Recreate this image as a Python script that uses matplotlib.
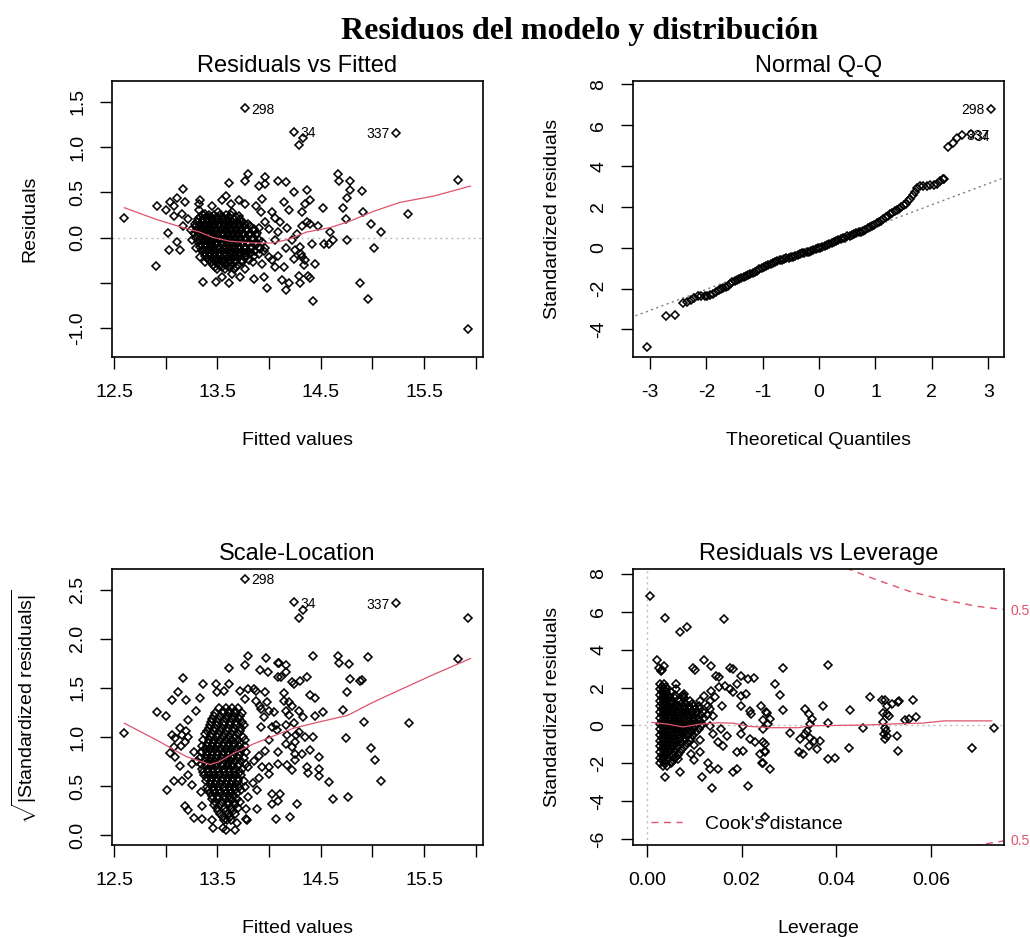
import matplotlib
matplotlib.use("Agg")
import matplotlib.pyplot as plt

plt.rcParams['font.family'] = ['Liberation Sans', 'DejaVu Sans']
plt.rcParams['mathtext.fontset'] = 'custom'
plt.rcParams['mathtext.rm'] = 'Liberation Sans'
plt.rcParams['mathtext.it'] = 'Liberation Sans:italic'

RED = '#DF536B'

# ---------------- Residuals vs Fitted ----------------
# scattered points (fitted value, residual)
rvf_points = [
    (12.60, 0.22), (12.91, -0.31), (12.92, 0.35), (13.00, 0.30), (13.02, 0.05), (13.03, -0.14),
    (13.04, 0.39), (13.08, 0.35), (13.11, 0.44), (13.11, -0.05), (13.14, -0.14), (13.17, 0.54),
    (13.19, 0.39), (13.08, 0.24), (13.16, 0.26), (13.22, 0.21), (13.17, 0.13), (13.24, 0.08),
    (13.33, 0.41), (13.32, 0.30), (13.25, -0.03), (13.29, -0.11), (13.33, -0.21), (13.38, -0.27),
    (13.36, -0.49), (13.49, -0.49), (13.61, -0.50), (13.54, -0.44), (13.64, -0.40), (13.72, -0.44),
    (13.77, -0.35), (13.85, -0.46), (13.95, -0.44), (13.98, -0.56), (14.13, -0.47), (14.16, -0.58),
    (14.19, -0.50), (14.30, -0.50), (14.29, -0.42), (14.38, -0.42), (14.40, -0.45), (14.43, -0.70),
    (14.32, -0.22), (14.35, -0.25), (14.25, -0.14), (14.24, -0.24), (14.14, -0.33), (14.06, -0.33),
    (14.03, -0.25), (14.09, -0.20), (14.16, -0.11), (14.22, -0.03), (14.27, 0.04), (14.32, 0.13),
    (14.37, 0.17), (14.32, 0.28), (14.35, 0.37), (14.24, 0.50), (14.16, 0.61), (14.09, 0.63),
    (13.96, 0.67), (13.96, 0.59), (13.90, 0.57), (13.80, 0.70), (13.77, 0.62), (13.61, 0.60),
    (14.37, 0.53), (14.40, 0.41), (13.45, 0.35), (13.58, 0.46), (13.63, 0.37), (13.54, 0.41),
    (13.71, 0.41), (13.77, 0.37), (13.87, 0.35), (13.93, 0.43), (13.92, 0.28), (14.03, 0.28),
    (14.06, 0.22), (14.14, 0.39), (14.19, 0.30), (13.96, 0.17), (13.90, 0.11), (14.00, 0.10),
    (14.11, 0.17), (14.09, 0.06), (14.17, 0.11), (14.06, -0.03), (13.96, -0.11), (13.90, -0.18),
    (14.00, -0.22), (13.93, -0.29), (13.84, -0.27), (13.80, 0.15), (13.71, 0.24), (13.64, 0.28),
    (13.51, 0.28), (13.32, 0.37), (13.38, 0.26),
    (14.33, 1.10), (14.29, 1.02),
    (14.67, 0.70), (14.68, 0.63), (14.78, 0.63), (14.78, 0.53), (14.90, 0.52), (14.75, 0.44),
    (14.72, 0.33), (14.91, 0.28), (14.74, 0.20), (14.99, 0.15), (15.08, 0.06), (14.75, -0.03),
    (15.02, -0.12), (14.88, -0.50), (14.96, -0.68), (15.34, 0.26), (15.83, 0.64), (15.93, -1.01),
    (14.52, 0.33), (14.40, 0.15), (14.47, 0.13), (14.59, 0.06), (14.62, -0.03), (14.58, -0.07),
    (14.53, -0.07), (14.42, -0.07), (14.30, -0.10), (14.31, -0.18), (14.44, -0.29), (14.34, -0.30),
]
# dense cluster: residual level -> fitted values
rvf_cluster = {
    0.25: [13.36, 13.42, 13.47, 13.53, 13.58, 13.63],
    0.225: [13.33, 13.39, 13.44, 13.50, 13.55, 13.61, 13.68],
    0.20: [13.31, 13.36, 13.41, 13.45, 13.50, 13.55, 13.60, 13.66, 13.72],
    0.175: [13.30, 13.35, 13.40, 13.45, 13.50, 13.55, 13.60, 13.64, 13.69, 13.74],
    0.15: [13.28, 13.33, 13.38, 13.43, 13.47, 13.52, 13.57, 13.61, 13.66, 13.71, 13.77],
    0.125: [13.29, 13.33, 13.38, 13.42, 13.47, 13.52, 13.56, 13.61, 13.66, 13.71, 13.76, 13.82],
    0.10: [13.30, 13.35, 13.40, 13.44, 13.49, 13.54, 13.58, 13.63, 13.68, 13.73, 13.79, 13.85],
    0.075: [13.30, 13.35, 13.39, 13.44, 13.49, 13.53, 13.58, 13.63, 13.68, 13.73, 13.79, 13.85],
    0.05: [13.27, 13.32, 13.37, 13.42, 13.46, 13.51, 13.55, 13.60, 13.65, 13.70, 13.75, 13.82, 13.88],
    0.025: [13.31, 13.36, 13.41, 13.46, 13.50, 13.55, 13.60, 13.65, 13.70, 13.75, 13.81, 13.87],
    0.00: [13.29, 13.34, 13.39, 13.44, 13.48, 13.53, 13.57, 13.62, 13.67, 13.72, 13.78, 13.84],
    -0.025: [13.32, 13.37, 13.42, 13.47, 13.52, 13.57, 13.62, 13.67, 13.72, 13.77, 13.84, 13.90],
    -0.05: [13.31, 13.36, 13.41, 13.45, 13.50, 13.55, 13.59, 13.64, 13.69, 13.74, 13.80, 13.87, 13.93],
    -0.075: [13.34, 13.39, 13.44, 13.49, 13.54, 13.59, 13.64, 13.69, 13.74, 13.80, 13.87],
    -0.10: [13.33, 13.38, 13.43, 13.47, 13.52, 13.57, 13.61, 13.66, 13.71, 13.77, 13.83, 13.90],
    -0.125: [13.36, 13.41, 13.46, 13.51, 13.56, 13.61, 13.66, 13.71, 13.77, 13.83, 13.91],
    -0.15: [13.35, 13.40, 13.45, 13.49, 13.54, 13.59, 13.63, 13.68, 13.74, 13.80, 13.86, 13.95],
    -0.175: [13.38, 13.43, 13.47, 13.52, 13.57, 13.62, 13.66, 13.71, 13.77, 13.83],
    -0.20: [13.38, 13.43, 13.48, 13.53, 13.57, 13.62, 13.67, 13.72, 13.78, 13.85],
    -0.225: [13.40, 13.45, 13.50, 13.55, 13.60, 13.65, 13.70, 13.77],
    -0.25: [13.42, 13.47, 13.52, 13.57, 13.62, 13.67, 13.74, 13.81],
    -0.275: [13.44, 13.49, 13.55, 13.61, 13.67, 13.74],
    -0.30: [13.46, 13.52, 13.58, 13.64, 13.70],
    -0.325: [13.48, 13.54, 13.61, 13.68],
    -0.35: [13.50, 13.57, 13.66],
}
rvf_id_x = [13.77, 14.24, 15.23]
rvf_id_y = [1.43, 1.17, 1.16]
id_labels = ['298', '34', '337']
rvf_smooth_x = [12.60, 12.91, 13.17, 13.33, 13.46, 13.62, 13.85, 14.04, 14.20, 14.36, 14.59,
                14.78, 15.01, 15.27, 15.60, 15.95]
rvf_smooth_y = [0.33, 0.20, 0.11, 0.06, 0.00, -0.04, -0.06, -0.06, -0.015, 0.06, 0.11,
                0.18, 0.29, 0.39, 0.46, 0.57]

# ---------------- Normal Q-Q ----------------
qq_x = [-3.06, -2.71, -2.55, -2.41, -2.34, -2.27, -2.21, -2.15, -2.09, -2.03, -1.98, -1.93,
        -1.88, -1.83, -1.78, -1.74, -1.70, -1.66, -1.62, -1.58, -1.54, -1.50, -1.46, -1.42,
        -1.38, -1.34, -1.30, -1.26, -1.22, -1.18, -1.14, -1.10, -1.06, -1.02, -0.98, -0.94,
        -0.90, -0.86, -0.82, -0.78, -0.74, -0.70, -0.66, -0.62, -0.58, -0.54, -0.50, -0.46,
        -0.42, -0.38, -0.34, -0.30, -0.26, -0.22, -0.18, -0.14, -0.10, -0.06, -0.02, 0.02,
        0.06, 0.10, 0.14, 0.18, 0.22, 0.26, 0.30, 0.34, 0.38, 0.42, 0.46, 0.50, 0.54, 0.58,
        0.62, 0.66, 0.70, 0.74, 0.78, 0.82, 0.86, 0.90, 0.94, 0.98, 1.02, 1.06, 1.10, 1.14,
        1.18, 1.22, 1.26, 1.30, 1.34, 1.38, 1.42, 1.46, 1.50, 1.54, 1.58, 1.62, 1.66, 1.70,
        1.74, 1.79, 1.85, 1.91, 1.97, 2.03, 2.09, 2.14, 2.19, 2.22, 2.29, 2.37, 2.45, 2.53,
        2.69, 3.04]
qq_y = [-4.85, -3.36, -3.28, -2.73, -2.68, -2.56, -2.47, -2.38, -2.36, -2.35, -2.36, -2.30,
        -2.26, -2.19, -2.08, -2.00, -1.95, -1.90, -1.85, -1.78, -1.70, -1.64, -1.58, -1.53,
        -1.49, -1.45, -1.39, -1.33, -1.28, -1.23, -1.18, -1.12, -1.06, -1.01, -0.96, -0.91,
        -0.86, -0.81, -0.76, -0.69, -0.64, -0.61, -0.58, -0.55, -0.52, -0.50, -0.47, -0.44,
        -0.40, -0.35, -0.31, -0.28, -0.25, -0.22, -0.19, -0.15, -0.11, -0.07, -0.03, 0.01,
        0.05, 0.09, 0.13, 0.17, 0.22, 0.26, 0.31, 0.36, 0.41, 0.46, 0.50, 0.55, 0.59, 0.63,
        0.67, 0.71, 0.75, 0.79, 0.84, 0.89, 0.95, 1.01, 1.07, 1.13, 1.19, 1.26, 1.33, 1.41,
        1.49, 1.57, 1.65, 1.72, 1.79, 1.86, 1.92, 1.99, 2.07, 2.15, 2.27, 2.40, 2.56, 2.74,
        2.92, 3.00, 3.02, 3.03, 3.05, 3.08, 3.14, 3.25, 3.34, 3.37, 4.91, 5.15, 5.35, 5.52,
        5.58, 6.79]
qq_line_x = [-3.35, 3.35]
qq_line_y = [-3.43, 3.50]

# ---------------- Scale-Location ----------------
sl_points = [
    (12.60, 1.04), (14.33, 2.29), (14.29, 2.21), (15.93, 2.21), (15.83, 1.79),
    (15.35, 1.14), (14.96, 1.81), (14.67, 1.83), (14.68, 1.75), (14.77, 1.74), (14.78, 1.59),
    (14.88, 1.57), (14.90, 1.58), (14.75, 1.46), (14.72, 1.28), (14.92, 1.15), (14.74, 0.99),
    (14.99, 0.89), (15.03, 0.77), (15.08, 0.55), (14.76, 0.39), (14.62, 0.37), (14.58, 0.54),
    (14.48, 0.67), (14.48, 0.60), (14.48, 0.80), (14.52, 1.25), (14.44, 1.21), (14.44, 1.40),
    (14.40, 1.43), (14.37, 1.61), (14.43, 1.83), (14.30, 1.57), (14.24, 1.54), (14.33, 1.20),
    (14.43, 1.00), (14.40, 0.87), (14.37, 0.69), (14.38, 0.63), (14.27, 0.32), (14.20, 0.19),
    (14.07, 0.17), (14.11, 0.42), (14.03, 0.42), (14.09, 0.35), (14.17, 0.71), (14.25, 0.77),
    (14.25, 0.83), (14.26, 1.02), (14.25, 0.95), (14.16, 1.12), (14.19, 1.22), (14.19, 1.36),
    (14.14, 1.45), (14.16, 1.66), (14.10, 1.75), (14.16, 1.73), (14.12, 1.61), (13.97, 1.80),
    (13.91, 1.68), (13.99, 1.66), (13.80, 1.83), (13.77, 1.73), (13.61, 1.70), (13.85, 1.49),
    (13.96, 1.46), (13.91, 1.32), (14.05, 1.25), (14.07, 1.12), (14.09, 0.73), (14.00, 0.69),
    (14.00, 0.62), (13.88, 0.27), (13.78, 0.27), (13.78, 0.17), (13.69, 0.12), (13.67, 0.05),
    (13.55, 0.07), (13.35, 0.17), (13.35, 0.30), (13.27, 0.18), (13.22, 0.26), (13.01, 0.46),
    (13.08, 0.55), (13.16, 0.55), (12.92, 1.25), (13.00, 1.21), (13.06, 1.38), (13.12, 1.46),
    (13.17, 1.60), (13.20, 1.38), (13.04, 0.84), (13.09, 0.80), (13.09, 0.99), (13.14, 1.09),
    (13.20, 1.06), (13.15, 0.91), (13.19, 0.95), (13.33, 1.40), (13.36, 1.54), (13.49, 1.54),
    (13.61, 1.54), (13.72, 1.47), (14.09, 1.75), (14.22, 1.56), (13.50, 1.46), (13.56, 1.47),
    (13.80, 1.49), (13.87, 1.47), (13.98, 1.36), (13.77, 1.39), (13.87, 1.37), (13.92, 1.29),
    (13.95, 1.20), (13.92, 1.10), (14.03, 1.10), (14.08, 1.07), (14.24, 1.14), (14.00, 0.97),
    (13.96, 0.86), (13.90, 0.81), (13.85, 0.76), (13.80, 0.69), (13.93, 0.69), (13.90, 0.58),
    (13.84, 0.53), (13.77, 0.49), (13.88, 0.46), (13.80, 0.39), (14.03, 0.32), (13.22, 0.61),
    (13.25, 0.51), (13.34, 0.44), (13.19, 0.30), (13.45, 0.15), (13.46, 0.07), (13.58, 0.05),
    (13.79, 0.15), (13.59, 0.15), (13.08, 0.90), (13.06, 1.02), (13.16, 1.02), (13.22, 1.00),
    (13.27, 0.85), (13.30, 0.76), (13.35, 0.85), (13.25, 0.73), (13.14, 0.70), (13.22, 1.17),
    (13.29, 1.27), (14.09, 0.85), (14.22, 0.66), (14.32, 0.83), (14.35, 1.00), (14.29, 1.05),
    (14.16, 0.93), (14.22, 0.90), (14.17, 1.02), (14.14, 1.37), (14.16, 1.27), (14.00, 1.27),
    (14.22, 1.32), (14.29, 1.27), (14.09, 1.61),
]
# dense cluster: sqrt|std. residual| level -> fitted values
sl_cluster = {
    1.30: [13.52, 13.58, 13.64, 13.70],
    1.27: [13.55, 13.61, 13.67],
    1.24: [13.48, 13.55, 13.61, 13.67, 13.74],
    1.21: [13.47, 13.53, 13.60, 13.66, 13.72],
    1.18: [13.45, 13.51, 13.58, 13.64, 13.71],
    1.15: [13.44, 13.50, 13.56, 13.62, 13.68, 13.74],
    1.12: [13.43, 13.50, 13.56, 13.62, 13.68, 13.76],
    1.09: [13.42, 13.48, 13.54, 13.60, 13.66, 13.73],
    1.06: [13.40, 13.47, 13.53, 13.59, 13.65, 13.72],
    1.03: [13.38, 13.45, 13.51, 13.57, 13.63, 13.70],
    1.00: [13.44, 13.50, 13.55, 13.61, 13.67, 13.75],
    0.97: [13.36, 13.42, 13.47, 13.53, 13.58, 13.64, 13.70, 13.77],
    0.94: [13.41, 13.46, 13.51, 13.56, 13.61, 13.66, 13.72],
    0.91: [13.35, 13.40, 13.45, 13.50, 13.55, 13.60, 13.65, 13.71, 13.77],
    0.88: [13.38, 13.43, 13.48, 13.53, 13.58, 13.63, 13.68, 13.74],
    0.85: [13.34, 13.40, 13.45, 13.50, 13.55, 13.60, 13.66, 13.72, 13.78],
    0.82: [13.40, 13.45, 13.50, 13.55, 13.60, 13.65, 13.71],
    0.79: [13.33, 13.39, 13.44, 13.49, 13.54, 13.59, 13.64, 13.70, 13.76],
    0.76: [13.37, 13.42, 13.47, 13.52, 13.57, 13.62, 13.67, 13.73],
    0.73: [13.34, 13.40, 13.45, 13.50, 13.55, 13.60, 13.65, 13.71, 13.78],
    0.70: [13.39, 13.44, 13.49, 13.54, 13.59, 13.64, 13.70],
    0.67: [13.35, 13.41, 13.46, 13.51, 13.56, 13.61, 13.67, 13.74],
    0.64: [13.36, 13.41, 13.46, 13.51, 13.56, 13.61, 13.66, 13.72],
    0.61: [13.37, 13.42, 13.47, 13.52, 13.57, 13.62, 13.67, 13.73],
    0.58: [13.40, 13.45, 13.50, 13.55, 13.60, 13.65, 13.70],
    0.55: [13.39, 13.44, 13.49, 13.54, 13.59, 13.64, 13.70, 13.76],
    0.52: [13.43, 13.48, 13.53, 13.58, 13.63, 13.68],
    0.49: [13.40, 13.46, 13.51, 13.56, 13.61, 13.66, 13.71],
    0.46: [13.41, 13.47, 13.52, 13.57, 13.62, 13.67, 13.73],
    0.43: [13.43, 13.48, 13.53, 13.58, 13.63, 13.69],
    0.40: [13.45, 13.51, 13.56, 13.61, 13.66],
    0.37: [13.45, 13.51, 13.57, 13.63, 13.69],
    0.34: [13.48, 13.54, 13.60, 13.66, 13.72],
    0.31: [13.47, 13.53, 13.60, 13.67],
    0.28: [13.50, 13.57, 13.63, 13.70],
    0.25: [13.51, 13.58, 13.65],
    0.22: [13.53, 13.60, 13.67],
    0.19: [13.55, 13.62],
    0.16: [13.56, 13.63],
}
sl_id_x = [13.77, 14.24, 15.23]
sl_id_y = [2.61, 2.37, 2.36]
sl_smooth_x = [12.60, 12.91, 13.20, 13.43, 13.52, 13.65, 13.85, 14.09, 14.24, 14.43, 14.76,
               14.98, 15.08, 15.37, 15.60, 15.95]
sl_smooth_y = [1.14, 0.97, 0.80, 0.72, 0.75, 0.83, 0.93, 1.03, 1.09, 1.14, 1.22,
               1.34, 1.39, 1.53, 1.64, 1.80]

# ---------------- Residuals vs Leverage ----------------
rvl_points = [
    (0.0007, 6.86), (0.0037, 5.68), (0.0069, 4.92), (0.0085, 5.22), (0.0163, 5.62), (0.0020, 3.45),
    (0.0025, 3.05), (0.0031, 2.95), (0.0036, 3.15), (0.0029, 2.85), (0.0097, 3.01), (0.0101, 2.95),
    (0.0121, 3.45), (0.0136, 3.12), (0.0175, 3.05), (0.0182, 2.98), (0.0146, 2.62), (0.0153, 2.56),
    (0.0199, 2.60), (0.0213, 2.45), (0.0225, 2.50), (0.0062, 2.18), (0.0076, 1.60), (0.0136, 1.83),
    (0.0152, 2.01), (0.0164, 2.10), (0.0175, 1.92), (0.0189, 2.19), (0.0199, 1.57), (0.0210, 1.66),
    (0.0182, 1.74), (0.0159, 1.00), (0.0139, 0.51), (0.0132, 0.87), (0.0199, 1.04), (0.0217, 0.77),
    (0.0220, 0.60), (0.0241, 1.04), (0.0252, 0.69), (0.0259, 0.34), (0.0157, -0.20), (0.0168, -0.55),
    (0.0150, -0.90), (0.0161, -1.08), (0.0203, -0.02), (0.0199, -0.46), (0.0217, -0.73),
    (0.0228, -0.90), (0.0189, -1.43), (0.0203, -1.34), (0.0249, -0.99), (0.0242, -1.96),
    (0.0260, -2.31), (0.0249, -1.34), (0.0238, -1.52), (0.0182, -2.45), (0.0189, -2.31),
    (0.0129, -2.00), (0.0132, -2.31), (0.0150, -2.31), (0.0115, -2.70), (0.0137, -3.28),
    (0.0214, -3.21), (0.0250, -4.85), (0.0069, -2.47), (0.0037, -2.70), (0.0100, -1.85),
    (0.0052, -1.93), (0.0066, -1.75), (0.0111, -1.38), (0.0100, -1.05), (0.0111, -0.78),
    (0.0093, -1.52), (0.0139, -0.46), (0.0132, -0.02), (0.0129, 1.04), (0.0121, 1.57),
    (0.0132, 1.30), (0.0143, 1.48), (0.0111, 1.30), (0.0076, 1.48), (0.0062, 1.92), (0.0079, 1.66),
    (0.0287, 3.03), (0.0383, 3.17), (0.0271, 2.18), (0.0281, 1.62), (0.0287, 0.83), (0.0253, 0.65),
    (0.0245, 0.30), (0.0255, 0.07), (0.0245, -0.19), (0.0245, -0.90), (0.0250, -1.40),
    (0.0245, -1.96), (0.0302, -0.41), (0.0334, 0.86), (0.0341, 0.60), (0.0348, 0.33), (0.0345, 0.07),
    (0.0338, -0.29), (0.0334, -0.46), (0.0323, -0.73), (0.0345, -0.64), (0.0352, -0.81),
    (0.0320, -1.40), (0.0329, -1.52), (0.0341, -1.08), (0.0359, -1.22), (0.0366, -0.81),
    (0.0371, 1.04), (0.0382, 0.12), (0.0383, -1.78), (0.0397, -1.71), (0.0426, -1.18),
    (0.0429, 0.83), (0.0456, -0.12), (0.0471, 1.51), (0.0496, 1.35), (0.0503, 1.35), (0.0506, 1.04),
    (0.0517, 1.13), (0.0531, 1.25), (0.0533, 1.31), (0.0499, 0.68), (0.0506, 0.60), (0.0510, 0.51),
    (0.0499, 0.16), (0.0503, -0.11), (0.0505, -0.29), (0.0501, -0.46), (0.0506, -0.55),
    (0.0503, -0.73), (0.0528, -0.55), (0.0529, -1.34), (0.0544, 0.30), (0.0554, 0.34),
    (0.0568, 0.44), (0.0562, 1.35), (0.0686, -1.17), (0.0732, -0.12),
]
# dense cluster: std. residual level -> leverage values
rvl_cluster = {
    2.2: [0.0028, 0.0036],
    2.05: [0.0032, 0.0040],
    1.9: [0.0027, 0.0035, 0.0043],
    1.75: [0.0031, 0.0040, 0.0050],
    1.6: [0.0028, 0.0036, 0.0045, 0.0058],
    1.45: [0.0032, 0.0040, 0.0049, 0.0060, 0.0078],
    1.3: [0.0027, 0.0035, 0.0044, 0.0053, 0.0068, 0.0090],
    1.15: [0.0032, 0.0041, 0.0051, 0.0061, 0.0071, 0.0082, 0.0094],
    1.0: [0.0028, 0.0037, 0.0046, 0.0056, 0.0066, 0.0077, 0.0088, 0.0099, 0.0110],
    0.85: [0.0032, 0.0041, 0.0050, 0.0060, 0.0070, 0.0080, 0.0090, 0.0101, 0.0112],
    0.7: [0.0027, 0.0036, 0.0045, 0.0055, 0.0065, 0.0075, 0.0085, 0.0095, 0.0106, 0.0118],
    0.55: [0.0032, 0.0041, 0.0050, 0.0060, 0.0070, 0.0080, 0.0090, 0.0101, 0.0113, 0.0126],
    0.4: [0.0028, 0.0037, 0.0046, 0.0056, 0.0066, 0.0076, 0.0086, 0.0096, 0.0107, 0.0120],
    0.25: [0.0032, 0.0041, 0.0050, 0.0060, 0.0070, 0.0080, 0.0090, 0.0100, 0.0112],
    0.1: [0.0027, 0.0036, 0.0045, 0.0055, 0.0065, 0.0075, 0.0085, 0.0095, 0.0105, 0.0117],
    -0.05: [0.0032, 0.0041, 0.0050, 0.0060, 0.0070, 0.0080, 0.0090, 0.0101, 0.0114],
    -0.2: [0.0028, 0.0037, 0.0046, 0.0056, 0.0066, 0.0076, 0.0086, 0.0097, 0.0110],
    -0.35: [0.0032, 0.0041, 0.0051, 0.0061, 0.0071, 0.0081, 0.0092, 0.0104],
    -0.5: [0.0027, 0.0036, 0.0045, 0.0055, 0.0065, 0.0075, 0.0086, 0.0098],
    -0.65: [0.0032, 0.0041, 0.0050, 0.0060, 0.0070, 0.0081, 0.0093],
    -0.8: [0.0028, 0.0037, 0.0046, 0.0056, 0.0066, 0.0077, 0.0090],
    -0.95: [0.0032, 0.0041, 0.0051, 0.0061, 0.0072, 0.0085],
    -1.1: [0.0027, 0.0036, 0.0045, 0.0055, 0.0066, 0.0080],
    -1.25: [0.0032, 0.0041, 0.0050, 0.0061, 0.0074],
    -1.4: [0.0028, 0.0037, 0.0046, 0.0057, 0.0070],
    -1.55: [0.0032, 0.0041, 0.0052, 0.0065],
    -1.7: [0.0027, 0.0036, 0.0046, 0.0060],
    -1.85: [0.0032, 0.0042, 0.0055],
    -2.0: [0.0028, 0.0038, 0.0050],
    -2.15: [0.0033, 0.0042],
}
rvl_smooth_x = [0.0010, 0.0045, 0.0076, 0.0110, 0.0150, 0.0182, 0.0215, 0.0260, 0.0320, 0.0345,
                0.0400, 0.0460, 0.0520, 0.0580, 0.0628, 0.0728]
rvl_smooth_y = [0.16, 0.06, -0.08, 0.06, 0.14, 0.12, -0.05, -0.12, -0.12, -0.02,
                0.00, 0.02, 0.08, 0.12, 0.24, 0.24]
cook_top_x = [0.0420, 0.0485, 0.0556, 0.0627, 0.0697, 0.0754]
cook_top_y = [8.32, 7.69, 7.07, 6.64, 6.29, 6.12]
cook_bot_x = [0.0690, 0.0754]
cook_bot_y = [-6.36, -6.10]


def unpack(points, cluster):
    xs = [p[0] for p in points]
    ys = [p[1] for p in points]
    for level, vals in cluster.items():
        xs += vals
        ys += [level] * len(vals)
    return xs, ys


def style(ax, title, xlabel, ylabel, xlim, ylim, xticks, xticklabels, yticks, yticklabels, ylab_x):
    ax.set_xlim(xlim)
    ax.set_ylim(ylim)
    ax.set_xticks(xticks)
    ax.set_xticklabels(xticklabels)
    ax.set_yticks(yticks)
    ax.set_yticklabels(yticklabels)
    ax.tick_params(axis='both', direction='out', length=8.5, width=1.0, labelsize=14)
    ax.tick_params(axis='x', pad=11)
    ax.tick_params(axis='y', pad=10, labelrotation=90)
    for lab in ax.get_yticklabels():
        lab.set_va('center')
    for sp in ax.spines.values():
        sp.set_linewidth(1.2)
    ax.set_title(title, fontsize=17, pad=6.7)
    ax.set_xlabel(xlabel, fontsize=14)
    ax.set_ylabel(ylabel, fontsize=14)
    ax.xaxis.set_label_coords(0.5, -0.272)
    ax.yaxis.set_label_coords(ylab_x, 0.5)


marker_kw = dict(linestyle='none', marker='D', markersize=3.9, markerfacecolor='none',
                 markeredgecolor='black', markeredgewidth=1.15)
dot_kw = dict(color='#BEBEBE', linewidth=1.0, linestyle=(0, (1.5, 2.5)))

fig = plt.figure(figsize=(10.30, 9.38), dpi=100)
fig.text(0.563, 0.9584, 'Residuos del modelo y distribución', ha='center', va='baseline',
         fontsize=23, fontweight='bold', family='Liberation Serif')

fit_ticks = [12.5, 13.0, 13.5, 14.0, 14.5, 15.0, 15.5, 16.0]
fit_labels = ['12.5', '', '13.5', '', '14.5', '', '15.5', '']

# Residuals vs Fitted
ax1 = fig.add_axes([0.1087, 0.6194, 0.3602, 0.2942])
x, y = unpack(rvf_points, rvf_cluster)
ax1.axhline(0, **dot_kw)
ax1.plot(x, y, **marker_kw)
ax1.plot(rvf_id_x, rvf_id_y, **marker_kw)
ax1.plot(rvf_smooth_x, rvf_smooth_y, color=RED, linewidth=0.9)
for xi, yi, lab in zip(rvf_id_x, rvf_id_y, id_labels):
    right = lab == '337'
    ax1.annotate(lab, (xi, yi), xytext=(-4.5 if right else 4.5, -1), textcoords='offset points',
                 ha='right' if right else 'left', va='center', fontsize=10)
style(ax1, 'Residuals vs Fitted', 'Fitted values', 'Residuals', (12.48, 16.07), (-1.32, 1.73),
      fit_ticks, fit_labels, [-1.0, -0.5, 0.0, 0.5, 1.0, 1.5],
      ['-1.0', '', '0.0', '0.5', '1.0', '1.5'], -0.197)

# Normal Q-Q
ax2 = fig.add_axes([0.6146, 0.6194, 0.3602, 0.2942])
ax2.plot(qq_line_x, qq_line_y, color='#7F7F7F', linewidth=1.0, linestyle=(0, (1.5, 2.5)))
ax2.plot(qq_x, qq_y, **marker_kw)
ax2.annotate('298', (qq_x[-1], qq_y[-1]), xytext=(-4.5, -0.5), textcoords='offset points',
             ha='right', va='center', fontsize=10)
ax2.annotate('337', (qq_x[-3], qq_y[-3]), xytext=(20, -1), textcoords='offset points',
             ha='right', va='center', fontsize=10)
ax2.annotate('34', (qq_x[-2], qq_y[-2]), xytext=(13.5, -2), textcoords='offset points',
             ha='right', va='center', fontsize=10)
style(ax2, 'Normal Q-Q', 'Theoretical Quantiles', 'Standardized residuals', (-3.30, 3.28),
      (-5.35, 8.16), [-3, -2, -1, 0, 1, 2, 3], ['-3', '-2', '-1', '0', '1', '2', '3'],
      [-4, -2, 0, 2, 4, 6, 8], ['-4', '-2', '0', '2', '4', '6', '8'], -0.194)

# Scale-Location
ax3 = fig.add_axes([0.1087, 0.0991, 0.3602, 0.2942])
x, y = unpack(sl_points, sl_cluster)
ax3.plot(x, y, **marker_kw)
ax3.plot(sl_id_x, sl_id_y, **marker_kw)
ax3.plot(sl_smooth_x, sl_smooth_y, color=RED, linewidth=0.9)
for xi, yi, lab in zip(sl_id_x, sl_id_y, id_labels):
    right = lab == '337'
    ax3.annotate(lab, (xi, yi), xytext=(-4.5 if right else 4.5, -1), textcoords='offset points',
                 ha='right' if right else 'left', va='center', fontsize=10)
style(ax3, 'Scale-Location', 'Fitted values',
      r'$\sqrt{|\mathrm{Standardized\ residuals}|}$', (12.48, 16.07), (-0.10, 2.71),
      fit_ticks, fit_labels, [0.0, 0.5, 1.0, 1.5, 2.0, 2.5],
      ['0.0', '0.5', '1.0', '1.5', '2.0', '2.5'], -0.197)

# Residuals vs Leverage
ax4 = fig.add_axes([0.6146, 0.0991, 0.3602, 0.2942])
x, y = unpack(rvl_points, rvl_cluster)
ax4.axhline(0, **dot_kw)
ax4.axvline(0, **dot_kw)
ax4.plot(x, y, **marker_kw)
ax4.plot(rvl_smooth_x, rvl_smooth_y, color=RED, linewidth=0.9)
ax4.plot(cook_top_x, cook_top_y, color=RED, linewidth=1.0, linestyle=(0, (5, 4)),
         label="Cook's distance")
ax4.plot(cook_bot_x, cook_bot_y, color=RED, linewidth=1.0, linestyle=(0, (5, 4)))
ax4.text(0.0767, 6.05, '0.5', color=RED, fontsize=10, ha='left', va='center', clip_on=False)
ax4.text(0.0767, -6.10, '0.5', color=RED, fontsize=10, ha='left', va='center', clip_on=False)
style(ax4, 'Residuals vs Leverage', 'Leverage', 'Standardized residuals', (-0.00296, 0.0754),
      (-6.32, 8.26), [0.00, 0.02, 0.04, 0.06], ['0.00', '0.02', '0.04', '0.06'],
      [-6, -4, -2, 0, 2, 4, 6, 8], ['-6', '-4', '-2', '0', '2', '4', '6', '8'], -0.194)
ax4.legend(loc='lower left', bbox_to_anchor=(0.048, 0.045), frameon=False, fontsize=14,
           borderpad=0, borderaxespad=0, handlelength=1.6, handletextpad=1.2)

fig.savefig('out.png', dpi=100)
